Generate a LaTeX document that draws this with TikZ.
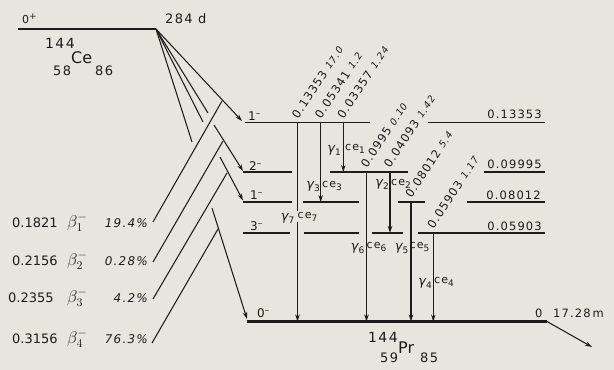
\documentclass[tikz,border=0pt]{standalone}
\usepackage{fix-cm}
\usepackage{fontspec}
\usetikzlibrary{arrows.meta}
\setmainfont{DejaVu Sans}
\newfontfamily\lab[LetterSpace=10]{DejaVu Sans}
\definecolor{bg}{RGB}{232,229,223}
\definecolor{ink}{RGB}{28,28,28}
\newcommand{\sbx}[1]{\raisebox{-3pt}{\fontsize{9}{9}\selectfont\upshape #1}}
\newcommand{\smit}{\fontsize{9.5}{10}\selectfont\itshape}
\newcommand{\mns}{\raisebox{3.5pt}{\fontsize{9}{9}\selectfont –}}
\begin{document}
\begin{tikzpicture}[x=1pt,y=-1pt,
  every node/.style={inner sep=0pt,text=ink},
  lev/.style={ink,line width=1.2pt},
  thk/.style={ink,line width=2.4pt},
  ln/.style={ink,line width=1.05pt},
  arr/.style={ln,-{Stealth[length=7pt,width=4.5pt]}},
  t/.style={font=\lab\fontsize{11.5}{12}\selectfont},
  bigt/.style={font=\fontsize{13}{14}\selectfont},
  rl/.style={t,rotate=57,anchor=base west},
  gm/.style={font=\lab\fontsize{13}{13}\selectfont\itshape,anchor=base east},
  ce/.style={font=\lab\fontsize{11}{11}\selectfont,anchor=base west},
  sp/.style={font=\lab\fontsize{12}{12}\selectfont,anchor=base west},
  pc/.style={font=\lab\fontsize{12}{12}\selectfont\itshape,anchor=base east},
  bt/.style={font=\fontsize{17}{17}\selectfont,anchor=base west}
]
\fill[bg] (0,0) rectangle (614,370);

% parent
\coordinate (P0) at (18,29);
\coordinate (A) at (156,29);
\draw[thk] (P0) -- (A);
\node[font=\lab\fontsize{11}{11}\selectfont,anchor=base west] (pspin) at (22,23) {0\raisebox{3.5pt}{\fontsize{9}{9}\selectfont +}};
\node[font=\lab\fontsize{13}{13}\selectfont,anchor=base west] (hl) at (165,23) {284 d};
\node[font=\lab\fontsize{14}{14}\selectfont,anchor=base west] (ceA) at (45,48) {144};
\node[font=\fontsize{16}{16}\selectfont,anchor=base west] (ceS) at (71,63) {Ce};
\node[font=\lab\fontsize{13}{13}\selectfont,anchor=base west] (ceZ) at (53,75) {58};
\node[font=\lab\fontsize{13}{13}\selectfont,anchor=base west] (ceN) at (95,75) {86};

% fan from apex
\coordinate (f1) at (192,142);
\coordinate (f2) at (203,122);
\coordinate (f3) at (208,113);
\coordinate (a1) at (242,121);
\draw[ln] (A) -- (f1);
\draw[ln] (A) -- (f2);
\draw[ln] (A) -- (f3);
\draw[arr] (A) -- (a1);

% beta branches
\coordinate (b1s) at (153,222); \coordinate (b1e) at (222,101);
\coordinate (b2s) at (153,262); \coordinate (b2e) at (223,141);
\coordinate (b3s) at (153,299); \coordinate (b3e) at (227,173);
\coordinate (b4s) at (152,343); \coordinate (b4e) at (218,229);
\draw[ln] (b1s) -- (b1e);
\draw[ln] (b2s) -- (b2e);
\draw[ln] (b3s) -- (b3e);
\draw[ln] (b4s) -- (b4e);
\coordinate (a2s) at (214,125); \coordinate (a2) at (243,171);
\coordinate (a3s) at (220,157); \coordinate (a3) at (243,200.5);
\coordinate (a0s) at (212,208); \coordinate (a0) at (247,319);
\draw[arr] (a2s) -- (a2);
\draw[arr] (a3s) -- (a3);
\draw[arr] (a0s) -- (a0);

% beta labels
\node[bigt,anchor=base west] (e1) at (12,227) {0.1821};
\node[bt] (B1) at (67,227) {$\beta_1^-$};
\node[pc] (p1) at (148,227) {19.4\%};
\node[bigt,anchor=base west] (e2) at (12,265) {0.2156};
\node[bt] (B2) at (67,265) {$\beta_2^-$};
\node[pc] (p2) at (148,265) {0.28\%};
\node[bigt,anchor=base west] (e3) at (8,302) {0.2355};
\node[bt] (B3) at (67,302) {$\beta_3^-$};
\node[pc] (p3) at (148,302) {4.2\%};
\node[bigt,anchor=base west] (e4) at (12,343) {0.3156};
\node[bt] (B4) at (67,343) {$\beta_4^-$};
\node[pc] (p4) at (148,343) {76.3\%};

% levels
\draw[lev] (245,122.5) -- (370,122.5);
\draw[lev] (428,122.5) -- (545,122.5);
\draw[lev] (243,172) -- (292,172);
\draw[lev] (330,172) -- (408,172);
\draw[lev] (484,172) -- (545,172);
\draw[lev] (243,202) -- (292,202);
\draw[lev] (303,202) -- (359,202);
\draw[lev] (398,202) -- (425,202);
\draw[lev] (467,202) -- (545,202);
\draw[lev] (243,233) -- (290,233);
\draw[lev] (304,233) -- (359,233);
\draw[lev] (372,233) -- (403,233);
\draw[lev] (418,233) -- (545,233);
\coordinate (g0) at (247,321.5);
\coordinate (g1) at (547,321.5);
\coordinate (gd) at (592,347);
\draw[thk] (g0) -- (g1);
\draw[arr] (g1) -- (gd);

% spins
\node[sp] (s1) at (248,120) {1\mns};
\node[sp] (s2) at (249,170) {2\mns};
\node[sp] (s3) at (250,199) {1\mns};
\node[sp] (s4) at (250,230) {3\mns};
\node[sp] (s0) at (257,317) {0\mns};

% level energies
\node[t,anchor=base east] (E1) at (542,118.5) {0.13353};
\node[t,anchor=base east] (E2) at (542,168) {0.09995};
\node[t,anchor=base east] (E3) at (541,199.5) {0.08012};
\node[t,anchor=base east] (E4) at (542,230) {0.05903};
\node[t,anchor=base west] (E0) at (535,317) {0};
\node[t,anchor=base west] (T0) at (553,317) {17.28\,m};

% product nuclide
\node[font=\lab\fontsize{14}{14}\selectfont,anchor=base west] (prA) at (368,342) {144};
\node[font=\fontsize{16}{16}\selectfont,anchor=base west] (prS) at (398,353) {Pr};
\node[font=\lab\fontsize{13}{13}\selectfont,anchor=base west] (prZ) at (380,362) {59};
\node[font=\lab\fontsize{13}{13}\selectfont,anchor=base west] (prN) at (420,362) {85};

% gamma transitions
\coordinate (g7a) at (297.5,122.5); \coordinate (g7b) at (297.5,321.5);
\coordinate (g3a) at (320.7,122.5); \coordinate (g3b) at (320.7,202);
\coordinate (g1a) at (343.3,122.5); \coordinate (g1b) at (343.3,172);
\coordinate (g6a) at (366.5,172);   \coordinate (g6b) at (366.5,321.5);
\coordinate (g2a) at (390,172);     \coordinate (g2b) at (390,233);
\coordinate (g5a) at (411,202);     \coordinate (g5b) at (411,321.5);
\coordinate (g4a) at (433.3,233);   \coordinate (g4b) at (433.3,321.5);
\draw[arr] (g7a) -- (g7b);
\draw[arr] (g3a) -- (g3b);
\draw[arr] (g1a) -- (g1b);
\draw[arr] (g6a) -- (g6b);
\draw[arr] (g2a) -- (g2b);
\draw[arr] (g5a) -- (g5b);
\draw[arr] (g4a) -- (g4b);

% gamma labels
\node[gm] (y1) at (341,152) {γ\sbx{1}};
\node[ce] (c1) at (345,150) {ce\sbx{1}};
\node[gm] (y3) at (320,188) {γ\sbx{3}};
\node[ce] (c3) at (322,187) {ce\sbx{3}};
\node[gm] (y2) at (389,186) {γ\sbx{2}};
\node[ce] (c2) at (391,185) {ce\sbx{2}};
\node[gm,fill=bg,inner sep=1pt] (y7) at (295.5,220) {γ\sbx{7}};
\node[ce,fill=bg,inner sep=1pt] (c7) at (296.5,218) {ce\sbx{7}};
\node[gm] (y6) at (364.5,250) {γ\sbx{6}};
\node[ce] (c6) at (366.5,248) {ce\sbx{6}};
\node[gm] (y5) at (408.5,250) {γ\sbx{5}};
\node[ce] (c5) at (409.5,248) {ce\sbx{5}};
\node[gm] (y4) at (432,285) {γ\sbx{4}};
\node[ce] (c4) at (434,283) {ce\sbx{4}};

% rotated transition energies
\node[rl] (r7) at (298,120) {0.13353\hspace{5pt}{\smit 17.0}};
\node[rl] (r3) at (321,120) {0.05341\hspace{5pt}{\smit 1.2}};
\node[rl] (r1) at (343.5,120) {0.03357\hspace{5pt}{\smit 1.24}};
\node[rl] (r6) at (367,169) {0.0995\hspace{5pt}{\smit 0.10}};
\node[rl] (r2) at (390,169) {0.04093\hspace{5pt}{\smit 1.42}};
\node[rl] (r5) at (411.5,199) {0.08012\hspace{5pt}{\smit 5.4}};
\node[rl] (r4) at (433.5,230) {0.05903\hspace{5pt}{\smit 1.17}};
\end{tikzpicture}
\end{document}
